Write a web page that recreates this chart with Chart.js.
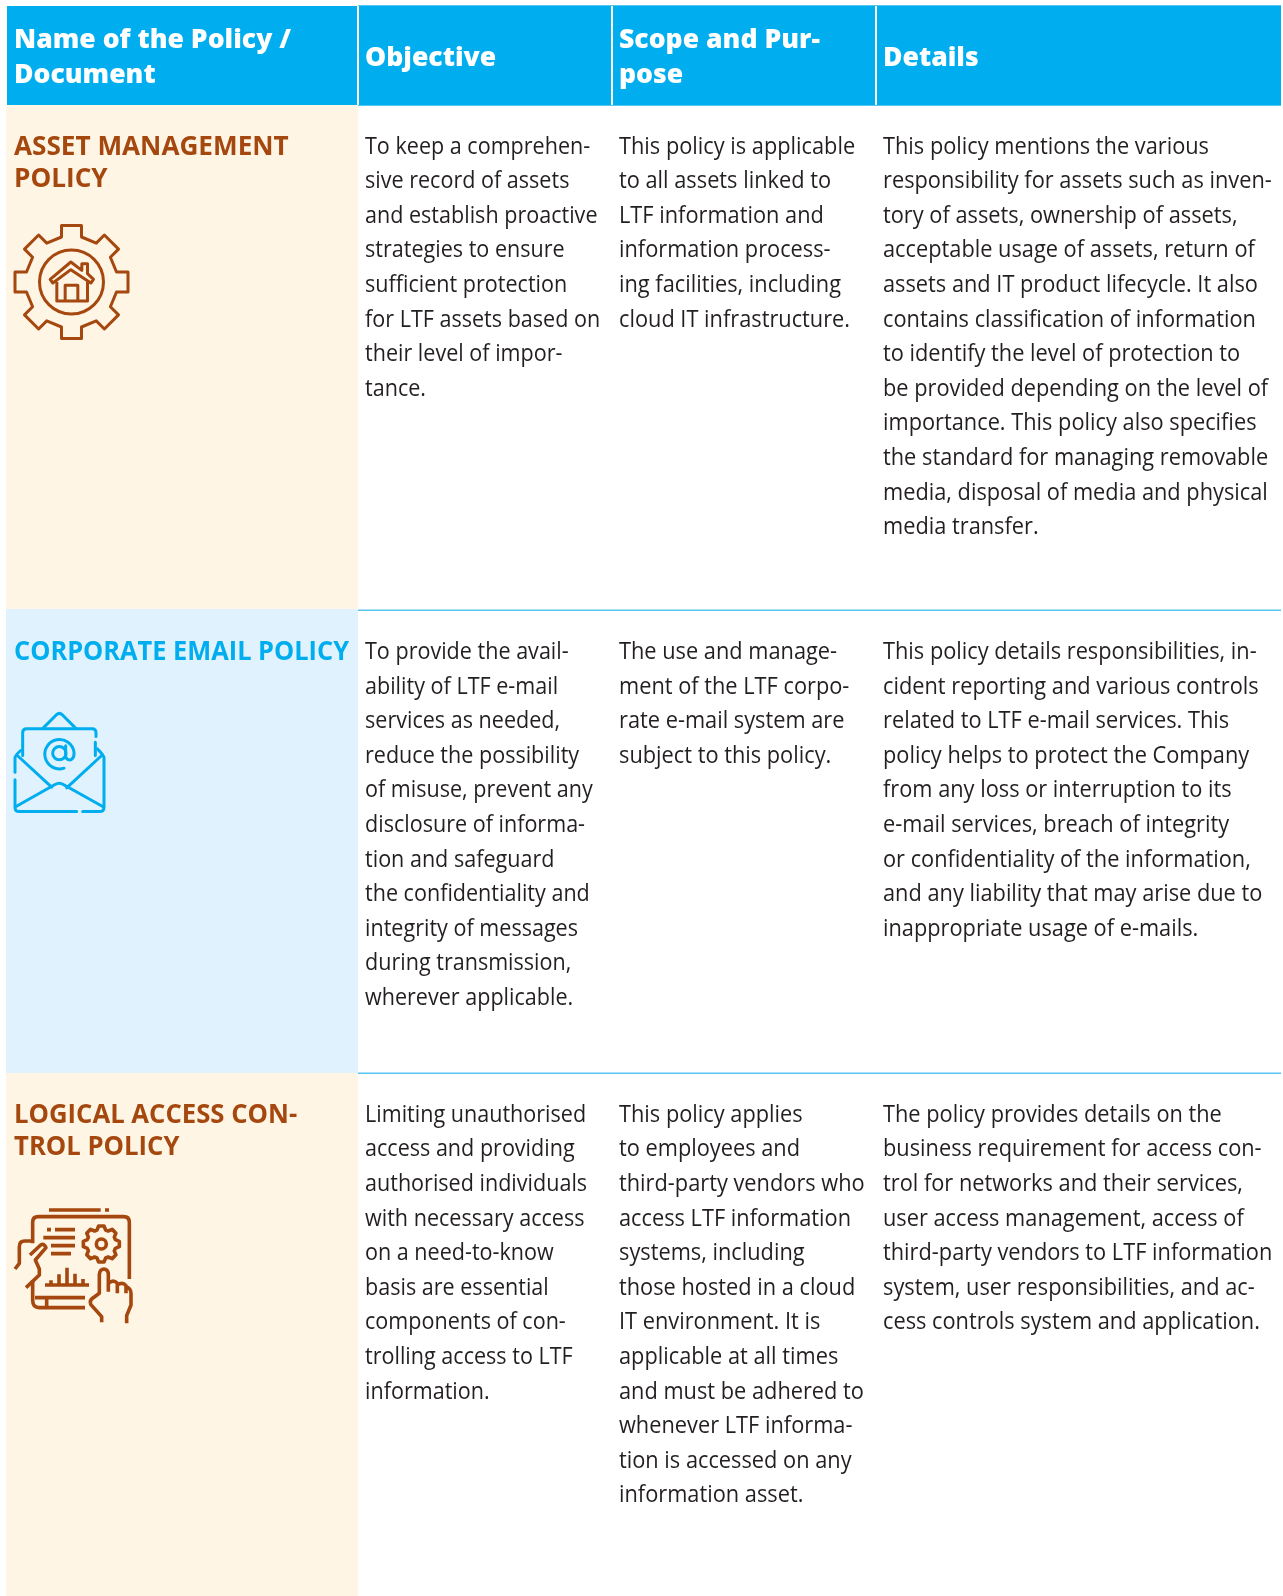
<!DOCTYPE html>
<html><head><meta charset="utf-8">
<style>html,body{margin:0;padding:0;background:#fff}canvas{display:block}</style>
<script src="https://cdn.jsdelivr.net/npm/chart.js@4"></script>
</head><body><canvas id="c" width="1283" height="1596"></canvas>
<script>
const headers = [["Name of the Policy /","Document"],["Objective"],["Scope and Pur-","pose"],["Details"]];
const policyNames = [["ASSET MANAGEMENT","POLICY"],["CORPORATE EMAIL POLICY"],["LOGICAL ACCESS CON-","TROL POLICY"]];
const objectives = [
 ["To keep a comprehen-","sive record of assets","and establish proactive","strategies to ensure","sufficient protection","for LTF assets based on","their level of impor-","tance."],
 ["To provide the avail-","ability of LTF e-mail","services as needed,","reduce the possibility","of misuse, prevent any","disclosure of informa-","tion and safeguard","the confidentiality and","integrity of messages","during transmission,","wherever applicable."],
 ["Limiting unauthorised","access and providing","authorised individuals","with necessary access","on a need-to-know","basis are essential","components of con-","trolling access to LTF","information."]];
const scopes = [
 ["This policy is applicable","to all assets linked to","LTF information and","information process-","ing facilities, including","cloud IT infrastructure."],
 ["The use and manage-","ment of the LTF corpo-","rate e-mail system are","subject to this policy."],
 ["This policy applies","to employees and","third-party vendors who","access LTF information","systems, including","those hosted in a cloud","IT environment. It is","applicable at all times","and must be adhered to","whenever LTF informa-","tion is accessed on any","information asset."]];
const details = [
 ["This policy mentions the various","responsibility for assets such as inven-","tory of assets, ownership of assets,","acceptable usage of assets, return of","assets and IT product lifecycle. It also","contains classification of information","to identify the level of protection to","be provided depending on the level of","importance. This policy also specifies","the standard for managing removable","media, disposal of media and physical","media transfer."],
 ["This policy details responsibilities, in-","cident reporting and various controls","related to LTF e-mail services. This","policy helps to protect the Company","from any loss or interruption to its","e-mail services, breach of integrity","or confidentiality of the information,","and any liability that may arise due to","inappropriate usage of e-mails."],
 ["The policy provides details on the","business requirement for access con-","trol for networks and their services,","user access management, access of","third-party vendors to LTF information","system, user responsibilities, and ac-","cess controls system and application."]];
const columnEdges = [6,358,611,875,1283];
const rowEdges = [6,105,609,1073,1596];
const rowFills = ["#fff5e4","#dff2fd","#fff5e4"];
const nameColors = ["#a5480f","#00aeef","#a5480f"];
const HEAD="#00aeef", RULE="#55c5f1", INK="#231f20";
const FONT='"Open Sans"';

function cell(x0,x1,y0,y1,color){
  return {data:[{x:(x0+x1)/2,y:[y0,y1]}],barThickness:x1-x0,backgroundColor:color,borderWidth:0,inflateAmount:0,grouped:false};
}
const datasets=[];
datasets.push(cell(columnEdges[1],1281,5,106,RULE));
datasets.push(cell(7,columnEdges[1]-1,6,105,HEAD));
datasets.push(cell(columnEdges[1]-1,columnEdges[1]+1,6,105,"#ffffff"));
datasets.push(cell(columnEdges[1]+1,columnEdges[2],6,105,HEAD));
datasets.push(cell(columnEdges[2],columnEdges[2]+2,6,105,"#ffffff"));
datasets.push(cell(columnEdges[2]+2,columnEdges[3],6,105,HEAD));
datasets.push(cell(columnEdges[3],columnEdges[3]+2,6,105,"#ffffff"));
datasets.push(cell(columnEdges[3]+2,1281,6,105,HEAD));
rowFills.forEach((c,i)=>datasets.push(cell(columnEdges[0],columnEdges[1],rowEdges[i+1],rowEdges[i+2],c)));
datasets.push(cell(columnEdges[1],1281,609.5,611,RULE));
datasets.push(cell(columnEdges[1],1281,1072.5,1074,RULE));
datasets.reverse(); // Chart.js paints the first dataset last

function textBlock(ctx,lines,x,y0,pitch,font,color,sx){
  ctx.font=font;ctx.fillStyle=color;ctx.textBaseline="alphabetic";ctx.textAlign="left";
  lines.forEach((t,i)=>{ctx.save();ctx.translate(x,y0+i*pitch);ctx.scale(sx,1);ctx.fillText(t,0,0);ctx.restore();});
}
function fit(ctx,font,sample,w){ctx.font=font;return w/ctx.measureText(sample).width;}

function gearIcon(ctx,cx,cy){
  ctx.beginPath();
  for(let k=0;k<8;k++){const a=k*Math.PI/4,c=Math.cos(a),s=Math.sin(a);
    [[-10,-45],[-10,-56.5],[10,-56.5],[10,-45]].forEach(([x,y])=>{ctx.lineTo(cx+x*c-y*s,cy+x*s+y*c);});}
  ctx.closePath();ctx.stroke();
  ctx.beginPath();ctx.arc(cx,cy,32,0,Math.PI*2);ctx.stroke();
  ctx.save();ctx.translate(cx,cy);ctx.scale(1/3,1/3);ctx.lineWidth*=3;
  ctx.stroke(new Path2D("M-64-8 L-2-60 L31-35 V-55 H48 V-25 L66-8 L58 3 L-2-37 L-56 3 Z"));
  ctx.stroke(new Path2D("M-44 0 V57 H48 V0 M-19 57 V10 H19 V57"));
  ctx.restore();
}
function mailIcon(ctx,ox,oy){
  ctx.save();ctx.translate(ox,oy);ctx.scale(1/3,1/3);ctx.lineWidth*=3;
  ["M130 82 L170 42 Q178 35 186 42 L226 82",
   "M68 165 V97 Q68 85 80 85 H276 Q288 85 288 97 V108 M286 125 V165",
   "M45 215 V172 Q45 165 62 150 M45 238 V320 Q45 333 58 333 H230 M248 333 H298 Q312 333 312 320 V172 Q312 165 292 145",
   "M52 165 L155 260 M305 165 L200 262",
   "M48 318 L165 252 Q178 244 190 252 L308 318",
   "M197 136 V168 Q200 180 212 178 Q224 172 222 155 A44 44 0 1 0 192 203"
  ].forEach(d=>ctx.stroke(new Path2D(d)));
  ctx.beginPath();ctx.arc(178,158,20,0,Math.PI*2);ctx.stroke();
  ctx.restore();
}
function tabletIcon(ctx,ox,oy){
  ctx.save();ctx.translate(ox,oy);ctx.scale(1/3,1/3);ctx.lineWidth*=3;
  ["M147 45 H302 M315 45 H327",
   "M98 145 V82 Q98 65 115 65 H371 Q388 65 388 82 V252",
   "M98 255 V315 Q98 338 118 338 H255 M105 308 H255 M140 308 V338",
   "M141 104 H153 M165 104 H225 M130 128 H225 M153 152 H225 M153 176 H213",
   "M135 270 H267 M153 270 V256 M177 270 V238 M201 270 V218 M225 270 V236 M249 270 V252",
   "M45 222 L58 205 V155 Q58 138 74 138 H98 M90 180 L122 150 Q132 144 138 158 L106 195 L118 222 V240 L78 278",
   "M305 382 V365 L272 328 Q268 315 280 308 L298 295 V238 Q300 222 312 222 Q325 224 325 238 V290 M325 265 Q340 252 352 265 V295 M352 270 Q368 260 378 272 V295 M378 275 Q393 280 393 295 V330 L380 362 V385"
  ].forEach(d=>ctx.stroke(new Path2D(d)));
  ctx.beginPath();
  const cx=304,cy=147;
  for(let k=0;k<8;k++){const a=k*Math.PI/4,c=Math.cos(a),s=Math.sin(a);
    [[-13,-42],[-8,-54],[8,-54],[13,-42]].forEach(([x,y])=>ctx.lineTo(cx+x*c-y*s,cy+x*s+y*c));}
  ctx.closePath();ctx.stroke();
  ctx.beginPath();ctx.arc(cx,cy,15,0,Math.PI*2);ctx.stroke();
  ctx.restore();
}

const tablePlugin={id:"tableText",afterDatasetsDraw(chart){
  const ctx=chart.ctx,xs=chart.scales.x,ys=chart.scales.y;
  const px=v=>xs.getPixelForValue(v),py=v=>ys.getPixelForValue(v);
  const bodyFont='23.5px '+FONT,headFont='800 26.5px '+FONT,nameFont='bold 26px '+FONT;
  const sxBody=fit(ctx,bodyFont,details[0][0],326);
  const sxHead=fit(ctx,headFont,headers[0][0],277);
  const sxName=fit(ctx,nameFont,policyNames[1][0],335);
  const nameStretch=[1.03,1,1.012];
  ctx.save();
  const headX=[14,365,619,883];
  const headY=[[48,83],[66],[48,83],[66]];
  headers.forEach((h,i)=>textBlock(ctx,h,px(headX[i]),py(headY[i][0]),35,headFont,"#ffffff",sxHead));
  const rowY=[154.5,660,1123],bodyY=[153.6,659,1121.7];
  policyNames.forEach((n,i)=>textBlock(ctx,n,px(14),py(rowY[i]),32,nameFont,nameColors[i],sxName*nameStretch[i]));
  [objectives,scopes,details].forEach((col,c)=>col.forEach((ls,r)=>
    textBlock(ctx,ls,px(headX[c+1]),py(bodyY[r]),34.6,bodyFont,INK,sxBody*(c===0?0.99:1))));
  ctx.lineJoin="round";ctx.lineCap="butt";
  ctx.strokeStyle=nameColors[0];ctx.lineWidth=3;gearIcon(ctx,px(71.5),py(282));
  ctx.strokeStyle=nameColors[1];ctx.lineWidth=3;ctx.lineCap="round";mailIcon(ctx,px(0),py(700.5));
  ctx.strokeStyle=nameColors[0];ctx.lineWidth=3.6;ctx.lineCap="butt";tabletIcon(ctx,px(0),py(1195));
  ctx.restore();
}};

new Chart(document.getElementById("c"),{type:"bar",data:{datasets},plugins:[tablePlugin],options:{
  responsive:false,animation:false,events:[],
  layout:{padding:0},
  plugins:{legend:{display:false},tooltip:{enabled:false},title:{display:false}},
  scales:{x:{type:"linear",min:0,max:1283,offset:false,display:false},y:{type:"linear",min:0,max:1596,reverse:true,display:false}}
}});
</script></body></html>
